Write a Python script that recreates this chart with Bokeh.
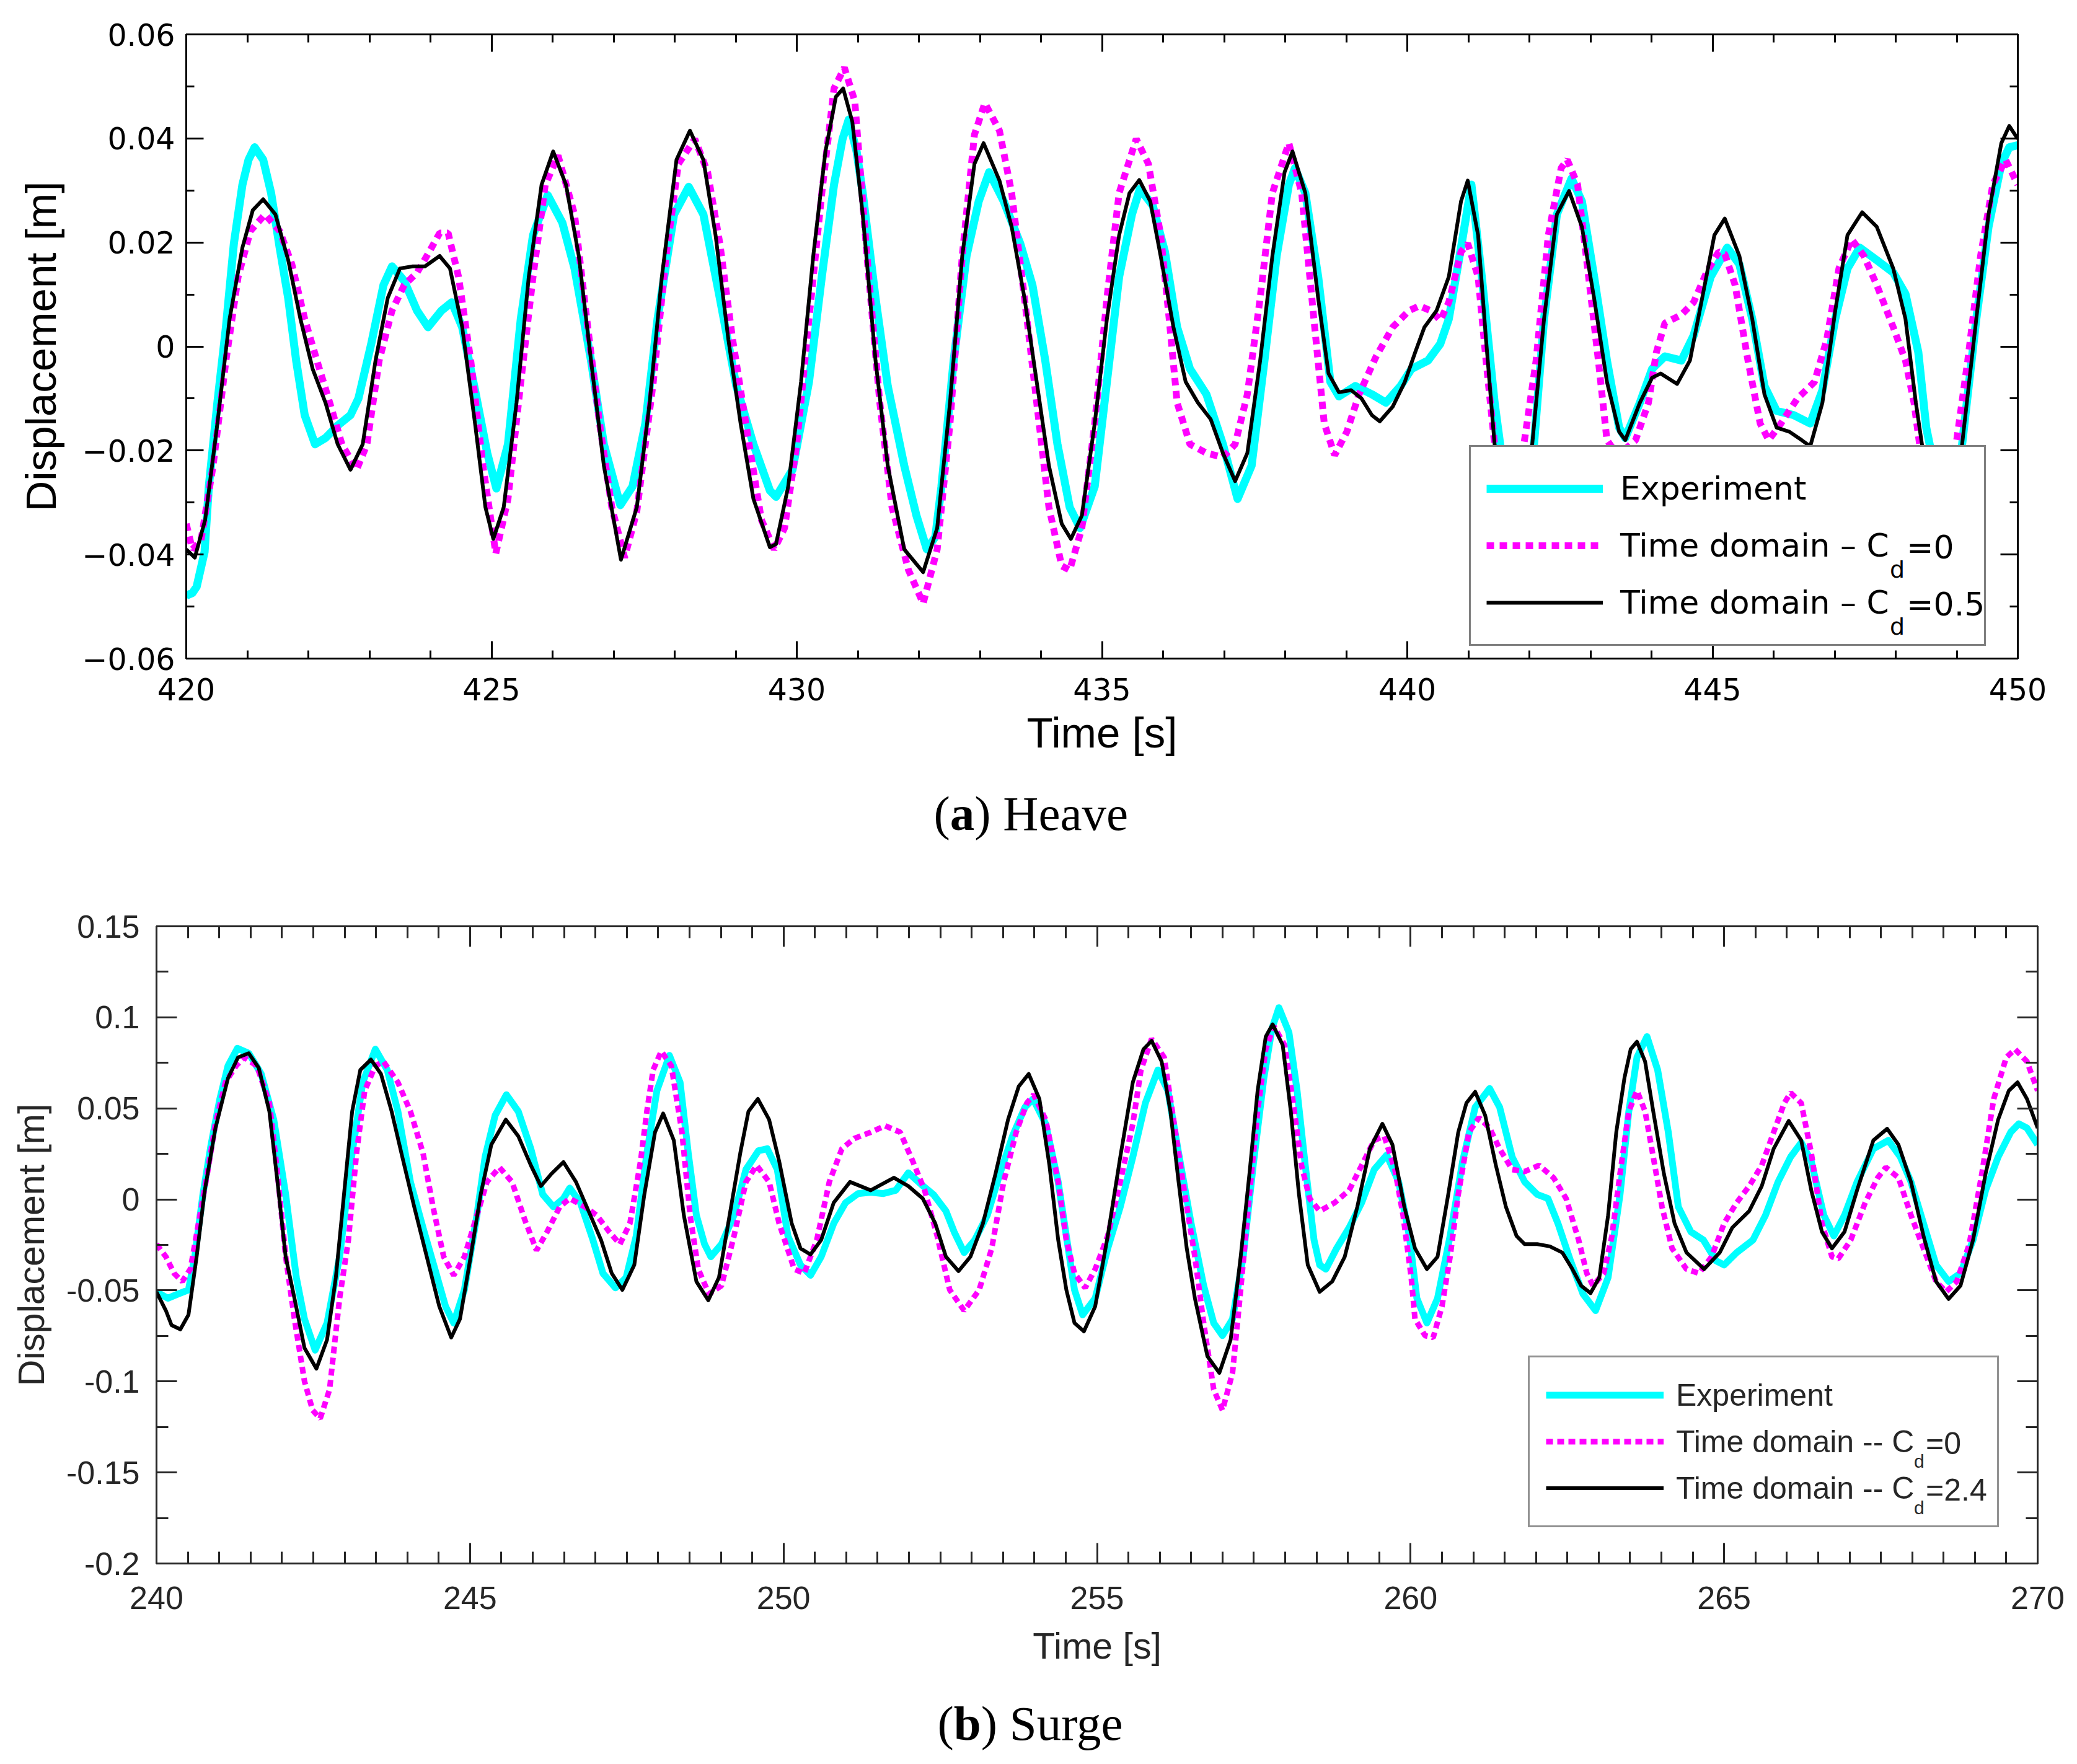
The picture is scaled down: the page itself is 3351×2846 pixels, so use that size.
from bokeh.plotting import figure
from bokeh.models import (Range1d, FixedTicker, LinearAxis, Legend, LegendItem,
                          Label, CustomJSTickFormatter)
from bokeh.embed import file_html
from bokeh.resources import INLINE

# ---------------- data: (time [s], displacement [m]) ----------------
heave_exp = [(420.00,-0.0479),(420.10,-0.0474),(420.17,-0.0462),(420.30,-0.0395),(420.37,-0.0269),(420.51,-0.0108),(420.65,0.0037),(420.78,0.0198),(420.92,0.0311),(421.02,0.0359),(421.12,0.0383),(421.26,0.0359),(421.39,0.0295),(421.53,0.0190),(421.67,0.0093),(421.80,-0.0027),(421.94,-0.0132),(422.11,-0.0188),(422.28,-0.0176),(422.48,-0.0152),(422.69,-0.0132),(422.82,-0.0100),(423.03,0.0005),(423.23,0.0118),(423.37,0.0154),(423.57,0.0126),(423.78,0.0069),(423.96,0.0037),(424.18,0.0069),(424.35,0.0085),(424.52,0.0037),(424.73,-0.0084),(424.93,-0.0205),(425.08,-0.0273),(425.27,-0.0188),(425.48,0.0053),(425.68,0.0214),(425.92,0.0291),(426.16,0.0238),(426.36,0.0150),(426.63,-0.0027),(426.84,-0.0188),(427.11,-0.0305),(427.31,-0.0269),(427.52,-0.0148),(427.72,0.0053),(427.99,0.0254),(428.23,0.0307),(428.47,0.0254),(428.74,0.0093),(429.01,-0.0076),(429.29,-0.0188),(429.56,-0.0277),(429.66,-0.0289),(429.93,-0.0237),(430.20,-0.0068),(430.41,0.0134),(430.61,0.0311),(430.75,0.0399),(430.85,0.0436),(430.98,0.0375),(431.08,0.0295),(431.29,0.0093),(431.49,-0.0076),(431.76,-0.0229),(431.96,-0.0325),(432.13,-0.0390),(432.27,-0.0366),(432.37,-0.0269),(432.57,-0.0027),(432.78,0.0174),(432.98,0.0279),(433.15,0.0335),(433.39,0.0279),(433.66,0.0198),(433.86,0.0118),(434.07,-0.0027),(434.27,-0.0188),(434.47,-0.0309),(434.64,-0.0349),(434.88,-0.0269),(435.08,-0.0068),(435.28,0.0134),(435.49,0.0254),(435.62,0.0303),(435.83,0.0271),(436.03,0.0182),(436.23,0.0037),(436.44,-0.0043),(436.71,-0.0092),(436.98,-0.0188),(437.22,-0.0293),(437.45,-0.0229),(437.66,-0.0027),(437.86,0.0174),(438.06,0.0311),(438.16,0.0343),(438.33,0.0295),(438.54,0.0134),(438.74,-0.0068),(438.88,-0.0096),(439.15,-0.0076),(439.42,-0.0092),(439.65,-0.0108),(439.89,-0.0076),(440.07,-0.0043),(440.34,-0.0027),(440.54,0.0005),(440.68,0.0053),(440.88,0.0190),(441.05,0.0311),(441.22,0.0134),(441.43,-0.0108),(441.53,-0.0196),(441.80,-0.0340),(442.07,-0.0196),(442.24,0.0053),(442.45,0.0254),(442.69,0.0323),(442.86,0.0279),(443.06,0.0134),(443.27,-0.0027),(443.47,-0.0156),(443.57,-0.0176),(443.81,-0.0108),(444.01,-0.0043),(444.22,-0.0019),(444.49,-0.0027),(444.69,0.0021),(444.97,0.0134),(445.24,0.0190),(445.44,0.0158),(445.65,0.0053),(445.85,-0.0076),(446.05,-0.0124),(446.33,-0.0132),(446.60,-0.0148),(446.80,-0.0084),(447.01,0.0053),(447.21,0.0150),(447.41,0.0190),(447.69,0.0166),(447.96,0.0142),(448.16,0.0101),(448.37,-0.0011),(448.50,-0.0156),(448.57,-0.0196),(448.82,-0.0330),(449.08,-0.0196),(449.32,0.0053),(449.52,0.0230),(449.73,0.0351),(449.86,0.0383),(450.00,0.0387)]

heave_cd0 = [(420.00,-0.0341),(420.10,-0.0390),(420.24,-0.0374),(420.44,-0.0229),(420.65,-0.0027),(420.85,0.0134),(421.05,0.0222),(421.29,0.0254),(421.53,0.0222),(421.73,0.0158),(421.94,0.0053),(422.14,-0.0027),(422.35,-0.0108),(422.55,-0.0188),(422.79,-0.0237),(422.96,-0.0188),(423.16,-0.0027),(423.37,0.0069),(423.57,0.0118),(423.78,0.0142),(423.98,0.0182),(424.15,0.0218),(424.29,0.0218),(424.46,0.0134),(424.66,-0.0027),(424.86,-0.0229),(425.07,-0.0398),(425.27,-0.0293),(425.48,-0.0068),(425.68,0.0134),(425.88,0.0311),(426.09,0.0367),(426.36,0.0254),(426.56,0.0053),(426.77,-0.0148),(426.97,-0.0309),(427.18,-0.0406),(427.38,-0.0317),(427.65,-0.0068),(427.86,0.0174),(428.06,0.0351),(428.33,0.0399),(428.54,0.0335),(428.74,0.0198),(428.95,0.0013),(429.22,-0.0188),(429.42,-0.0333),(429.63,-0.0390),(429.80,-0.0349),(430.00,-0.0188),(430.20,0.0053),(430.41,0.0295),(430.61,0.0496),(430.78,0.0536),(430.95,0.0472),(431.15,0.0174),(431.36,-0.0108),(431.56,-0.0309),(431.83,-0.0430),(432.07,-0.0494),(432.30,-0.0390),(432.51,-0.0148),(432.71,0.0174),(432.91,0.0407),(433.08,0.0468),(433.32,0.0415),(433.52,0.0295),(433.73,0.0093),(433.93,-0.0108),(434.13,-0.0309),(434.34,-0.0422),(434.47,-0.0430),(434.67,-0.0349),(434.88,-0.0148),(435.08,0.0093),(435.28,0.0295),(435.56,0.0399),(435.76,0.0351),(435.96,0.0214),(436.10,0.0053),(436.23,-0.0108),(436.44,-0.0188),(436.71,-0.0205),(436.98,-0.0213),(437.18,-0.0188),(437.38,-0.0092),(437.59,0.0093),(437.79,0.0295),(438.06,0.0391),(438.27,0.0295),(438.47,0.0053),(438.64,-0.0148),(438.81,-0.0209),(439.01,-0.0164),(439.21,-0.0092),(439.49,-0.0019),(439.76,0.0037),(440.03,0.0069),(440.20,0.0078),(440.40,0.0068),(440.54,0.0050),(440.68,0.0085),(440.88,0.0182),(440.99,0.0198),(441.16,0.0134),(441.29,-0.0027),(441.43,-0.0188),(441.70,-0.0400),(441.90,-0.0196),(442.11,-0.0027),(442.31,0.0214),(442.52,0.0343),(442.62,0.0359),(442.79,0.0311),(442.93,0.0174),(443.13,-0.0027),(443.27,-0.0180),(443.45,-0.0210),(443.74,-0.0180),(443.95,-0.0108),(444.08,-0.0011),(444.22,0.0045),(444.49,0.0061),(444.69,0.0085),(444.90,0.0142),(445.10,0.0182),(445.20,0.0178),(445.37,0.0118),(445.58,-0.0027),(445.78,-0.0148),(445.92,-0.0180),(446.12,-0.0148),(446.39,-0.0100),(446.67,-0.0068),(446.87,0.0013),(447.07,0.0150),(447.28,0.0206),(447.48,0.0174),(447.69,0.0118),(447.96,0.0037),(448.16,-0.0027),(448.30,-0.0108),(448.40,-0.0196),(448.70,-0.0360),(448.98,-0.0196),(449.18,-0.0027),(449.39,0.0174),(449.59,0.0311),(449.80,0.0359),(450.00,0.0311)]

heave_cd05 = [(420.00,-0.0390),(420.14,-0.0406),(420.31,-0.0333),(420.51,-0.0148),(420.71,0.0053),(420.92,0.0190),(421.09,0.0262),(421.26,0.0283),(421.46,0.0254),(421.67,0.0166),(421.87,0.0053),(422.07,-0.0043),(422.28,-0.0108),(422.48,-0.0188),(422.69,-0.0237),(422.89,-0.0188),(423.10,-0.0027),(423.30,0.0093),(423.50,0.0150),(423.71,0.0154),(423.91,0.0154),(424.15,0.0174),(424.32,0.0150),(424.52,0.0037),(424.73,-0.0148),(424.90,-0.0309),(425.03,-0.0370),(425.20,-0.0309),(425.41,-0.0108),(425.61,0.0134),(425.82,0.0311),(426.01,0.0375),(426.22,0.0311),(426.43,0.0174),(426.63,-0.0027),(426.84,-0.0229),(427.12,-0.0410),(427.38,-0.0309),(427.59,-0.0108),(427.79,0.0134),(428.03,0.0359),(428.25,0.0415),(428.47,0.0359),(428.67,0.0214),(428.88,0.0013),(429.08,-0.0148),(429.29,-0.0293),(429.56,-0.0386),(429.66,-0.0380),(429.86,-0.0269),(430.07,-0.0068),(430.27,0.0174),(430.47,0.0375),(430.64,0.0480),(430.76,0.0496),(430.91,0.0432),(431.08,0.0254),(431.29,-0.0027),(431.49,-0.0229),(431.76,-0.0390),(432.07,-0.0434),(432.30,-0.0349),(432.51,-0.0108),(432.71,0.0174),(432.91,0.0351),(433.06,0.0391),(433.32,0.0319),(433.52,0.0230),(433.73,0.0093),(433.93,-0.0068),(434.13,-0.0229),(434.34,-0.0341),(434.49,-0.0370),(434.67,-0.0325),(434.88,-0.0148),(435.08,0.0053),(435.28,0.0214),(435.45,0.0295),(435.61,0.0320),(435.79,0.0279),(435.96,0.0174),(436.17,0.0037),(436.37,-0.0068),(436.57,-0.0108),(436.78,-0.0140),(436.98,-0.0205),(437.18,-0.0259),(437.38,-0.0205),(437.59,-0.0027),(437.79,0.0174),(437.99,0.0335),(438.12,0.0375),(438.33,0.0295),(438.54,0.0093),(438.71,-0.0052),(438.88,-0.0088),(439.08,-0.0084),(439.25,-0.0100),(439.42,-0.0132),(439.55,-0.0144),(439.76,-0.0116),(439.96,-0.0068),(440.13,-0.0011),(440.28,0.0037),(440.48,0.0069),(440.68,0.0134),(440.88,0.0279),(440.99,0.0319),(441.16,0.0214),(441.29,0.0013),(441.43,-0.0188),(441.72,-0.0360),(442.04,-0.0196),(442.24,0.0053),(442.45,0.0254),(442.65,0.0299),(442.86,0.0230),(443.06,0.0093),(443.27,-0.0068),(443.47,-0.0164),(443.57,-0.0180),(443.81,-0.0108),(444.01,-0.0060),(444.15,-0.0052),(444.42,-0.0072),(444.63,-0.0027),(444.83,0.0093),(445.03,0.0214),(445.20,0.0246),(445.44,0.0174),(445.65,0.0053),(445.85,-0.0092),(446.05,-0.0156),(446.26,-0.0164),(446.46,-0.0180),(446.60,-0.0192),(446.80,-0.0108),(447.01,0.0069),(447.21,0.0214),(447.45,0.0258),(447.69,0.0230),(447.96,0.0150),(448.16,0.0053),(448.33,-0.0108),(448.44,-0.0196),(448.76,-0.0380),(449.08,-0.0196),(449.32,0.0053),(449.52,0.0254),(449.73,0.0391),(449.86,0.0424),(450.00,0.0399)]

surge_exp = [(240.00,-0.0508),(240.18,-0.0543),(240.34,-0.0520),(240.51,-0.0497),(240.61,-0.0315),(240.74,0.0027),(240.87,0.0301),(241.01,0.0552),(241.14,0.0734),(241.29,0.0830),(241.47,0.0803),(241.67,0.0689),(241.87,0.0438),(242.06,0.0027),(242.23,-0.0429),(242.36,-0.0657),(242.53,-0.0828),(242.72,-0.0679),(242.92,-0.0315),(243.12,0.0255),(243.29,0.0643),(243.49,0.0825),(243.68,0.0711),(243.85,0.0483),(244.05,0.0096),(244.25,-0.0155),(244.44,-0.0383),(244.61,-0.0588),(244.74,-0.0679),(244.91,-0.0497),(245.11,-0.0087),(245.24,0.0233),(245.40,0.0461),(245.58,0.0575),(245.77,0.0483),(245.97,0.0278),(246.16,0.0027),(246.33,-0.0041),(246.49,0.0005),(246.59,0.0062),(246.76,-0.0018),(246.96,-0.0223),(247.12,-0.0406),(247.32,-0.0486),(247.49,-0.0429),(247.65,-0.0201),(247.82,0.0255),(247.98,0.0597),(248.18,0.0791),(248.35,0.0643),(248.48,0.0255),(248.61,-0.0087),(248.74,-0.0246),(248.84,-0.0315),(249.01,-0.0246),(249.21,-0.0087),(249.40,0.0164),(249.60,0.0267),(249.74,0.0278),(249.90,0.0164),(250.07,-0.0201),(250.27,-0.0360),(250.43,-0.0417),(250.60,-0.0315),(250.80,-0.0132),(250.99,-0.0018),(251.19,0.0032),(251.39,0.0039),(251.59,0.0032),(251.79,0.0050),(251.99,0.0146),(252.19,0.0084),(252.39,0.0027),(252.59,-0.0064),(252.72,-0.0178),(252.88,-0.0292),(253.05,-0.0223),(253.25,-0.0087),(253.45,0.0141),(253.65,0.0347),(253.85,0.0506),(253.98,0.0552),(254.18,0.0415),(254.38,0.0096),(254.51,-0.0201),(254.64,-0.0497),(254.77,-0.0634),(254.97,-0.0543),(255.17,-0.0269),(255.37,-0.0041),(255.57,0.0233),(255.77,0.0529),(255.97,0.0711),(256.13,0.0597),(256.30,0.0255),(256.50,-0.0132),(256.70,-0.0474),(256.86,-0.0679),(257.00,-0.0748),(257.16,-0.0657),(257.33,-0.0315),(257.49,0.0187),(257.66,0.0666),(257.79,0.0939),(257.90,0.1053),(258.06,0.0917),(258.19,0.0597),(258.32,0.0187),(258.46,-0.0223),(258.55,-0.0360),(258.65,-0.0383),(258.82,-0.0269),(259.02,-0.0155),(259.22,-0.0018),(259.42,0.0164),(259.62,0.0244),(259.81,0.0096),(259.98,-0.0201),(260.10,-0.0543),(260.26,-0.0679),(260.43,-0.0543),(260.63,-0.0201),(260.83,0.0210),(261.03,0.0506),(261.26,0.0609),(261.42,0.0506),(261.62,0.0233),(261.82,0.0096),(262.02,0.0027),(262.19,0.0005),(262.35,-0.0132),(262.55,-0.0337),(262.75,-0.0520),(262.95,-0.0611),(263.15,-0.0429),(263.34,0.0027),(263.48,0.0483),(263.61,0.0780),(263.77,0.0894),(263.94,0.0711),(264.11,0.0369),(264.27,-0.0041),(264.47,-0.0178),(264.67,-0.0223),(264.87,-0.0337),(265.00,-0.0360),(265.20,-0.0292),(265.46,-0.0223),(265.66,-0.0087),(265.86,0.0096),(266.06,0.0233),(266.23,0.0312),(266.39,0.0210),(266.59,-0.0087),(266.75,-0.0201),(266.92,-0.0087),(267.12,0.0096),(267.38,0.0278),(267.62,0.0324),(267.81,0.0233),(267.98,0.0096),(268.18,-0.0132),(268.38,-0.0360),(268.58,-0.0451),(268.77,-0.0406),(268.97,-0.0223),(269.17,0.0050),(269.37,0.0233),(269.57,0.0369),(269.70,0.0415),(269.83,0.0392),(270.00,0.0301)]

surge_cd0 = [(240.00,-0.0246),(240.15,-0.0315),(240.28,-0.0406),(240.41,-0.0451),(240.54,-0.0383),(240.67,-0.0132),(240.81,0.0141),(240.94,0.0415),(241.10,0.0643),(241.27,0.0734),(241.40,0.0780),(241.60,0.0734),(241.80,0.0529),(241.93,0.0141),(242.06,-0.0315),(242.20,-0.0657),(242.36,-0.0999),(242.49,-0.1158),(242.61,-0.1204),(242.76,-0.1044),(242.92,-0.0543),(243.06,-0.0223),(243.19,0.0255),(243.32,0.0597),(243.49,0.0734),(243.62,0.0757),(243.85,0.0643),(244.05,0.0483),(244.25,0.0255),(244.41,-0.0041),(244.58,-0.0315),(244.74,-0.0417),(244.91,-0.0315),(245.11,-0.0087),(245.27,0.0096),(245.47,0.0176),(245.67,0.0096),(245.87,-0.0109),(246.06,-0.0280),(246.23,-0.0178),(246.43,-0.0041),(246.59,0.0005),(246.83,-0.0041),(247.02,-0.0087),(247.22,-0.0178),(247.39,-0.0246),(247.55,-0.0132),(247.72,0.0210),(247.82,0.0483),(247.92,0.0711),(248.05,0.0814),(248.21,0.0734),(248.38,0.0369),(248.51,-0.0087),(248.64,-0.0383),(248.81,-0.0520),(249.01,-0.0474),(249.21,-0.0201),(249.40,0.0096),(249.57,0.0187),(249.77,0.0096),(249.93,-0.0132),(250.17,-0.0383),(250.33,-0.0406),(250.53,-0.0223),(250.73,0.0096),(250.93,0.0278),(251.13,0.0335),(251.39,0.0369),(251.62,0.0404),(251.86,0.0369),(252.06,0.0210),(252.25,0.0050),(252.45,-0.0201),(252.65,-0.0497),(252.88,-0.0611),(253.12,-0.0497),(253.32,-0.0269),(253.51,0.0096),(253.71,0.0369),(253.88,0.0529),(253.99,0.0575),(254.18,0.0438),(254.38,0.0096),(254.51,-0.0223),(254.64,-0.0406),(254.81,-0.0486),(254.97,-0.0383),(255.17,-0.0201),(255.37,0.0096),(255.57,0.0415),(255.70,0.0711),(255.87,0.0882),(256.07,0.0780),(256.23,0.0415),(256.40,0.0027),(256.56,-0.0315),(256.70,-0.0679),(256.86,-0.1044),(257.00,-0.1158),(257.16,-0.0953),(257.29,-0.0497),(257.43,0.0027),(257.56,0.0483),(257.69,0.0825),(257.82,0.0951),(257.99,0.0848),(258.12,0.0552),(258.26,0.0187),(258.39,0.0005),(258.55,-0.0064),(258.79,-0.0018),(259.02,0.0050),(259.22,0.0187),(259.42,0.0324),(259.58,0.0347),(259.75,0.0164),(259.88,-0.0087),(260.01,-0.0429),(260.07,-0.0657),(260.23,-0.0748),(260.36,-0.0759),(260.50,-0.0588),(260.63,-0.0315),(260.76,0.0027),(260.93,0.0369),(261.09,0.0449),(261.26,0.0392),(261.42,0.0278),(261.62,0.0164),(261.82,0.0153),(262.05,0.0187),(262.28,0.0119),(262.48,0.0005),(262.68,-0.0223),(262.81,-0.0406),(262.91,-0.0474),(263.08,-0.0406),(263.21,-0.0201),(263.34,0.0141),(263.48,0.0483),(263.61,0.0597),(263.74,0.0483),(263.87,0.0233),(264.01,-0.0041),(264.17,-0.0269),(264.40,-0.0383),(264.60,-0.0406),(264.80,-0.0315),(265.00,-0.0132),(265.20,-0.0018),(265.40,0.0073),(265.60,0.0187),(265.79,0.0369),(265.96,0.0529),(266.06,0.0586),(266.23,0.0529),(266.39,0.0255),(266.56,-0.0132),(266.72,-0.0315),(266.82,-0.0326),(267.02,-0.0223),(267.25,-0.0018),(267.45,0.0119),(267.58,0.0176),(267.78,0.0119),(267.98,-0.0087),(268.18,-0.0269),(268.38,-0.0451),(268.54,-0.0508),(268.71,-0.0451),(268.91,-0.0246),(269.11,0.0141),(269.30,0.0552),(269.50,0.0780),(269.64,0.0825),(269.83,0.0757),(270.00,0.0597)]

surge_cd24 = [(240.00,-0.0508),(240.15,-0.0611),(240.24,-0.0691),(240.38,-0.0714),(240.51,-0.0634),(240.64,-0.0315),(240.77,0.0050),(240.94,0.0392),(241.14,0.0666),(241.30,0.0780),(241.47,0.0803),(241.63,0.0723),(241.80,0.0483),(241.93,0.0096),(242.06,-0.0315),(242.20,-0.0543),(242.36,-0.0816),(242.55,-0.0930),(242.72,-0.0771),(242.86,-0.0429),(242.99,0.0027),(243.12,0.0483),(243.25,0.0711),(243.42,0.0768),(243.58,0.0689),(243.75,0.0483),(243.92,0.0233),(244.11,-0.0041),(244.31,-0.0315),(244.51,-0.0588),(244.70,-0.0759),(244.84,-0.0657),(245.01,-0.0315),(245.17,0.0027),(245.34,0.0301),(245.57,0.0438),(245.77,0.0347),(245.97,0.0187),(246.13,0.0073),(246.30,0.0141),(246.49,0.0205),(246.69,0.0096),(246.89,-0.0064),(247.09,-0.0223),(247.26,-0.0406),(247.43,-0.0497),(247.62,-0.0360),(247.78,0.0027),(247.95,0.0369),(248.08,0.0472),(248.25,0.0324),(248.41,-0.0087),(248.61,-0.0451),(248.80,-0.0554),(248.97,-0.0429),(249.14,-0.0087),(249.31,0.0255),(249.44,0.0483),(249.59,0.0552),(249.77,0.0438),(249.93,0.0210),(250.13,-0.0132),(250.27,-0.0269),(250.43,-0.0303),(250.60,-0.0223),(250.80,-0.0018),(251.06,0.0096),(251.39,0.0050),(251.76,0.0119),(251.99,0.0073),(252.22,0.0005),(252.42,-0.0132),(252.59,-0.0315),(252.79,-0.0394),(252.98,-0.0315),(253.18,-0.0132),(253.38,0.0141),(253.58,0.0438),(253.75,0.0620),(253.91,0.0689),(254.08,0.0552),(254.24,0.0187),(254.38,-0.0223),(254.51,-0.0497),(254.64,-0.0679),(254.79,-0.0725),(254.97,-0.0588),(255.17,-0.0201),(255.37,0.0233),(255.57,0.0643),(255.74,0.0825),(255.87,0.0871),(256.03,0.0757),(256.17,0.0483),(256.30,0.0096),(256.43,-0.0269),(256.56,-0.0543),(256.76,-0.0862),(256.95,-0.0953),(257.13,-0.0771),(257.29,-0.0315),(257.43,0.0141),(257.56,0.0597),(257.69,0.0894),(257.80,0.0962),(257.96,0.0848),(258.09,0.0483),(258.22,0.0027),(258.36,-0.0360),(258.55,-0.0508),(258.75,-0.0451),(258.95,-0.0315),(259.15,-0.0041),(259.35,0.0278),(259.55,0.0415),(259.71,0.0301),(259.90,-0.0041),(260.07,-0.0269),(260.26,-0.0383),(260.43,-0.0315),(260.60,0.0027),(260.76,0.0369),(260.89,0.0529),(261.03,0.0591),(261.19,0.0461),(261.36,0.0187),(261.52,-0.0041),(261.69,-0.0201),(261.82,-0.0246),(262.02,-0.0246),(262.22,-0.0258),(262.42,-0.0292),(262.58,-0.0383),(262.72,-0.0474),(262.87,-0.0515),(263.01,-0.0429),(263.15,-0.0087),(263.28,0.0369),(263.41,0.0666),(263.51,0.0825),(263.61,0.0866),(263.74,0.0757),(263.87,0.0483),(264.04,0.0141),(264.21,-0.0132),(264.40,-0.0292),(264.68,-0.0383),(264.93,-0.0292),(265.13,-0.0155),(265.40,-0.0064),(265.60,0.0073),(265.79,0.0278),(266.03,0.0431),(266.23,0.0324),(266.39,0.0050),(266.56,-0.0178),(266.72,-0.0269),(266.92,-0.0178),(267.12,0.0050),(267.38,0.0324),(267.60,0.0388),(267.78,0.0301),(267.98,0.0096),(268.18,-0.0201),(268.38,-0.0451),(268.58,-0.0547),(268.77,-0.0474),(268.97,-0.0223),(269.17,0.0141),(269.37,0.0438),(269.54,0.0597),(269.68,0.0643),(269.83,0.0552),(270.00,0.0392)]

heave_xticks = [420, 425, 430, 435, 440, 445, 450]
heave_xminor = list(range(420, 451))
heave_yticks = [-0.06, -0.04, -0.02, 0.0, 0.02, 0.04, 0.06]
heave_yminor = [-0.06, -0.05, -0.04, -0.03, -0.02, -0.01, 0.0, 0.01, 0.02, 0.03, 0.04, 0.05, 0.06]
surge_xticks = [240, 245, 250, 255, 260, 265, 270]
surge_xminor = [240 + 0.5 * i for i in range(61)]
surge_yticks = [-0.2, -0.15, -0.1, -0.05, 0.0, 0.05, 0.1, 0.15]
surge_yminor = [round(-0.2 + 0.025 * i, 3) for i in range(15)]

heave_labels = ["Experiment", "Time domain \u2013 C", "Time domain \u2013 C"]
heave_subs = ["=0", "=0.5"]
surge_labels = ["Experiment", "Time domain -- C", "Time domain -- C"]
surge_subs = ["=0", "=2.4"]

CYAN = "#00FFFF"
MAGENTA = "#FF00FF"
G = "#262626"
W = 3335


def xs(d):
    return [a for a, b in d]


def ys(d):
    return [b for a, b in d]


def dress(p, color, xt, xm, yt, ym, yfmt, tick_font, tick_px, title_px,
          maj, mnr, xls, xts, yls, yts):
    p.xgrid.grid_line_color = None
    p.ygrid.grid_line_color = None
    p.outline_line_color = color
    p.outline_line_width = 3
    p.background_fill_color = "white"
    p.border_fill_color = "white"

    def common(ax):
        ax.axis_line_color = color
        ax.axis_line_width = 3
        ax.major_tick_line_color = color
        ax.minor_tick_line_color = color
        ax.major_tick_line_width = 3
        ax.minor_tick_line_width = 3
        ax.major_tick_in = maj
        ax.major_tick_out = 0
        ax.minor_tick_in = mnr
        ax.minor_tick_out = 0

    xa = p.xaxis[0]
    ya = p.yaxis[0]
    xa.ticker = FixedTicker(ticks=xt, minor_ticks=xm)
    ya.ticker = FixedTicker(ticks=yt, minor_ticks=ym)
    xa.formatter = CustomJSTickFormatter(code="return String(Math.round(tick));")
    ya.formatter = CustomJSTickFormatter(code=yfmt)
    for ax in (xa, ya):
        common(ax)
        ax.major_label_text_font = tick_font
        ax.major_label_text_font_size = f"{tick_px}px"
        ax.major_label_text_color = color
        ax.axis_label_text_font = "Liberation Sans"
        ax.axis_label_text_font_size = f"{title_px}px"
        ax.axis_label_text_font_style = "normal"
        ax.axis_label_text_color = color
    xa.major_label_standoff = xls
    xa.axis_label_standoff = xts
    ya.major_label_standoff = yls
    ya.axis_label_standoff = yts
    for side, ticks, minor in (("right", yt, ym), ("above", xt, xm)):
        ax = LinearAxis(ticker=FixedTicker(ticks=ticks, minor_ticks=minor),
                        formatter=CustomJSTickFormatter(code="return '';"),
                        major_label_text_font_size="1px", major_label_standoff=0)
        common(ax)
        p.add_layout(ax, side)


def add_legend(p, renderers, labels, subs, loc, pad, gw, gh, sp, lstand, lw,
               font, font_px, sub_px, d_x, d_dy, e_x, color):
    items = [LegendItem(label=l, renderers=[r]) for l, r in zip(labels, renderers)]
    main = Legend(items=items, location=loc, padding=pad, spacing=sp,
                  glyph_width=gw, glyph_height=gh, label_height=gh,
                  label_width=lw, label_standoff=lstand, margin=0,
                  label_text_font=font, label_text_font_size=f"{font_px}px",
                  label_text_color=color, label_text_baseline="middle",
                  border_line_color=color, border_line_width=3,
                  background_fill_color="white", background_fill_alpha=1.0)
    p.add_layout(main)
    # subscript "d" and the "=value" parts: transparent legends drawn on top,
    # sharing the row geometry of the main legend
    shared = dict(padding=0, spacing=sp, glyph_width=0, glyph_height=gh, label_height=gh,
                  label_standoff=0, margin=0, label_text_font=font,
                  label_text_color=color, label_text_baseline="middle",
                  border_line_color=None, background_fill_alpha=0.0)
    base_y = loc[1] + pad
    leg_d = Legend(items=[LegendItem(label="d", renderers=[r]) for r in renderers[1:]],
                   location=(d_x, base_y + d_dy), label_text_font_size=f"{sub_px}px", **shared)
    leg_e = Legend(items=[LegendItem(label=s, renderers=[r]) for s, r in zip(subs, renderers[1:])],
                   location=(e_x, base_y), label_text_font_size=f"{font_px}px", **shared)
    p.add_layout(leg_d)
    p.add_layout(leg_e)


def caption_strip(height, x0, baseline, letter, rest, size, letter_em):
    c = figure(width=W, height=height, x_range=Range1d(0, W), y_range=Range1d(0, height),
               x_axis_type=None, y_axis_type=None, output_backend="svg",
               toolbar_location=None, min_border=0, outline_line_color=None)
    c.background_fill_color = "white"
    c.border_fill_color = "white"
    common = dict(text_font="Liberation Serif", text_font_size=f"{size}px",
                  text_color="black", text_baseline="alphabetic")
    c.add_layout(Label(x=x0, y=baseline, text="(", **common))
    x1 = x0 + 0.333 * size
    c.add_layout(Label(x=x1, y=baseline, text=letter, text_font_style="bold", **common))
    x2 = x1 + letter_em * size
    c.add_layout(Label(x=x2, y=baseline, text=rest, **common))
    return c


# ---------------- (a) Heave ----------------
p1 = figure(width=W, height=1260, x_range=Range1d(420, 450), y_range=Range1d(-0.06, 0.06),
            output_backend="svg", toolbar_location=None,
            min_border_left=300, min_border_right=80, min_border_top=55, min_border_bottom=198,
            x_axis_label="Time [s]", y_axis_label="Displacement [m]")
r1 = p1.line(xs(heave_exp), ys(heave_exp), line_color=CYAN, line_width=13, line_join="round")
r2 = p1.line(xs(heave_cd0), ys(heave_cd0), line_color=MAGENTA, line_width=11, line_dash="12 9")
r3 = p1.line(xs(heave_cd05), ys(heave_cd05), line_color="black", line_width=6, line_join="round")
dress(p1, "black", heave_xticks, heave_xminor, heave_yticks, heave_yminor,
      "if (Math.abs(tick) < 1e-9) return '0'; return (tick < 0 ? '\u2212' : '') + Math.abs(tick).toFixed(2);",
      "DejaVu Sans", 49, 69, 28, 13, 31, 11, 18, 24)
add_legend(p1, [r1, r2, r3], heave_labels, heave_subs, (2070, 20), 25, 188, 84, 8, 28, 562,
           "DejaVu Sans", 52, 38, 2749, -35.8, 2776, "black")

cap1 = caption_strip(140, 1506, 88, "a", ") Heave", 79, 0.5)

# ---------------- (b) Surge ----------------
p2 = figure(width=W, height=1310, x_range=Range1d(240, 270), y_range=Range1d(-0.2, 0.15),
            output_backend="svg", toolbar_location=None,
            min_border_left=252, min_border_right=48, min_border_top=94, min_border_bottom=188,
            x_axis_label="Time [s]", y_axis_label="Displacement [m]")
s1 = p2.line(xs(surge_exp), ys(surge_exp), line_color=CYAN, line_width=11, line_join="round")
s2 = p2.line(xs(surge_cd0), ys(surge_cd0), line_color=MAGENTA, line_width=9, line_dash="11 7")
s3 = p2.line(xs(surge_cd24), ys(surge_cd24), line_color="black", line_width=6, line_join="round")
dress(p2, G, surge_xticks, surge_xminor, surge_yticks, surge_yminor,
      "if (Math.abs(tick) < 1e-9) return '0'; return String(parseFloat(tick.toFixed(3)));",
      "Liberation Sans", 52, 59, 33, 19, 37, 24, 27, 20)
add_legend(p2, [s1, s2, s3], surge_labels, surge_subs, (2213, 58), 26, 190, 69, 6, 20, 492,
           "Liberation Sans", 50, 30, 2836, -29.6, 2855, G)

cap2 = caption_strip(120, 1512, 50, "b", ") Surge", 79, 0.556)

with open("out.html", "w", encoding="utf-8") as f:
    f.write(file_html([p1, cap1, p2, cap2], INLINE))
